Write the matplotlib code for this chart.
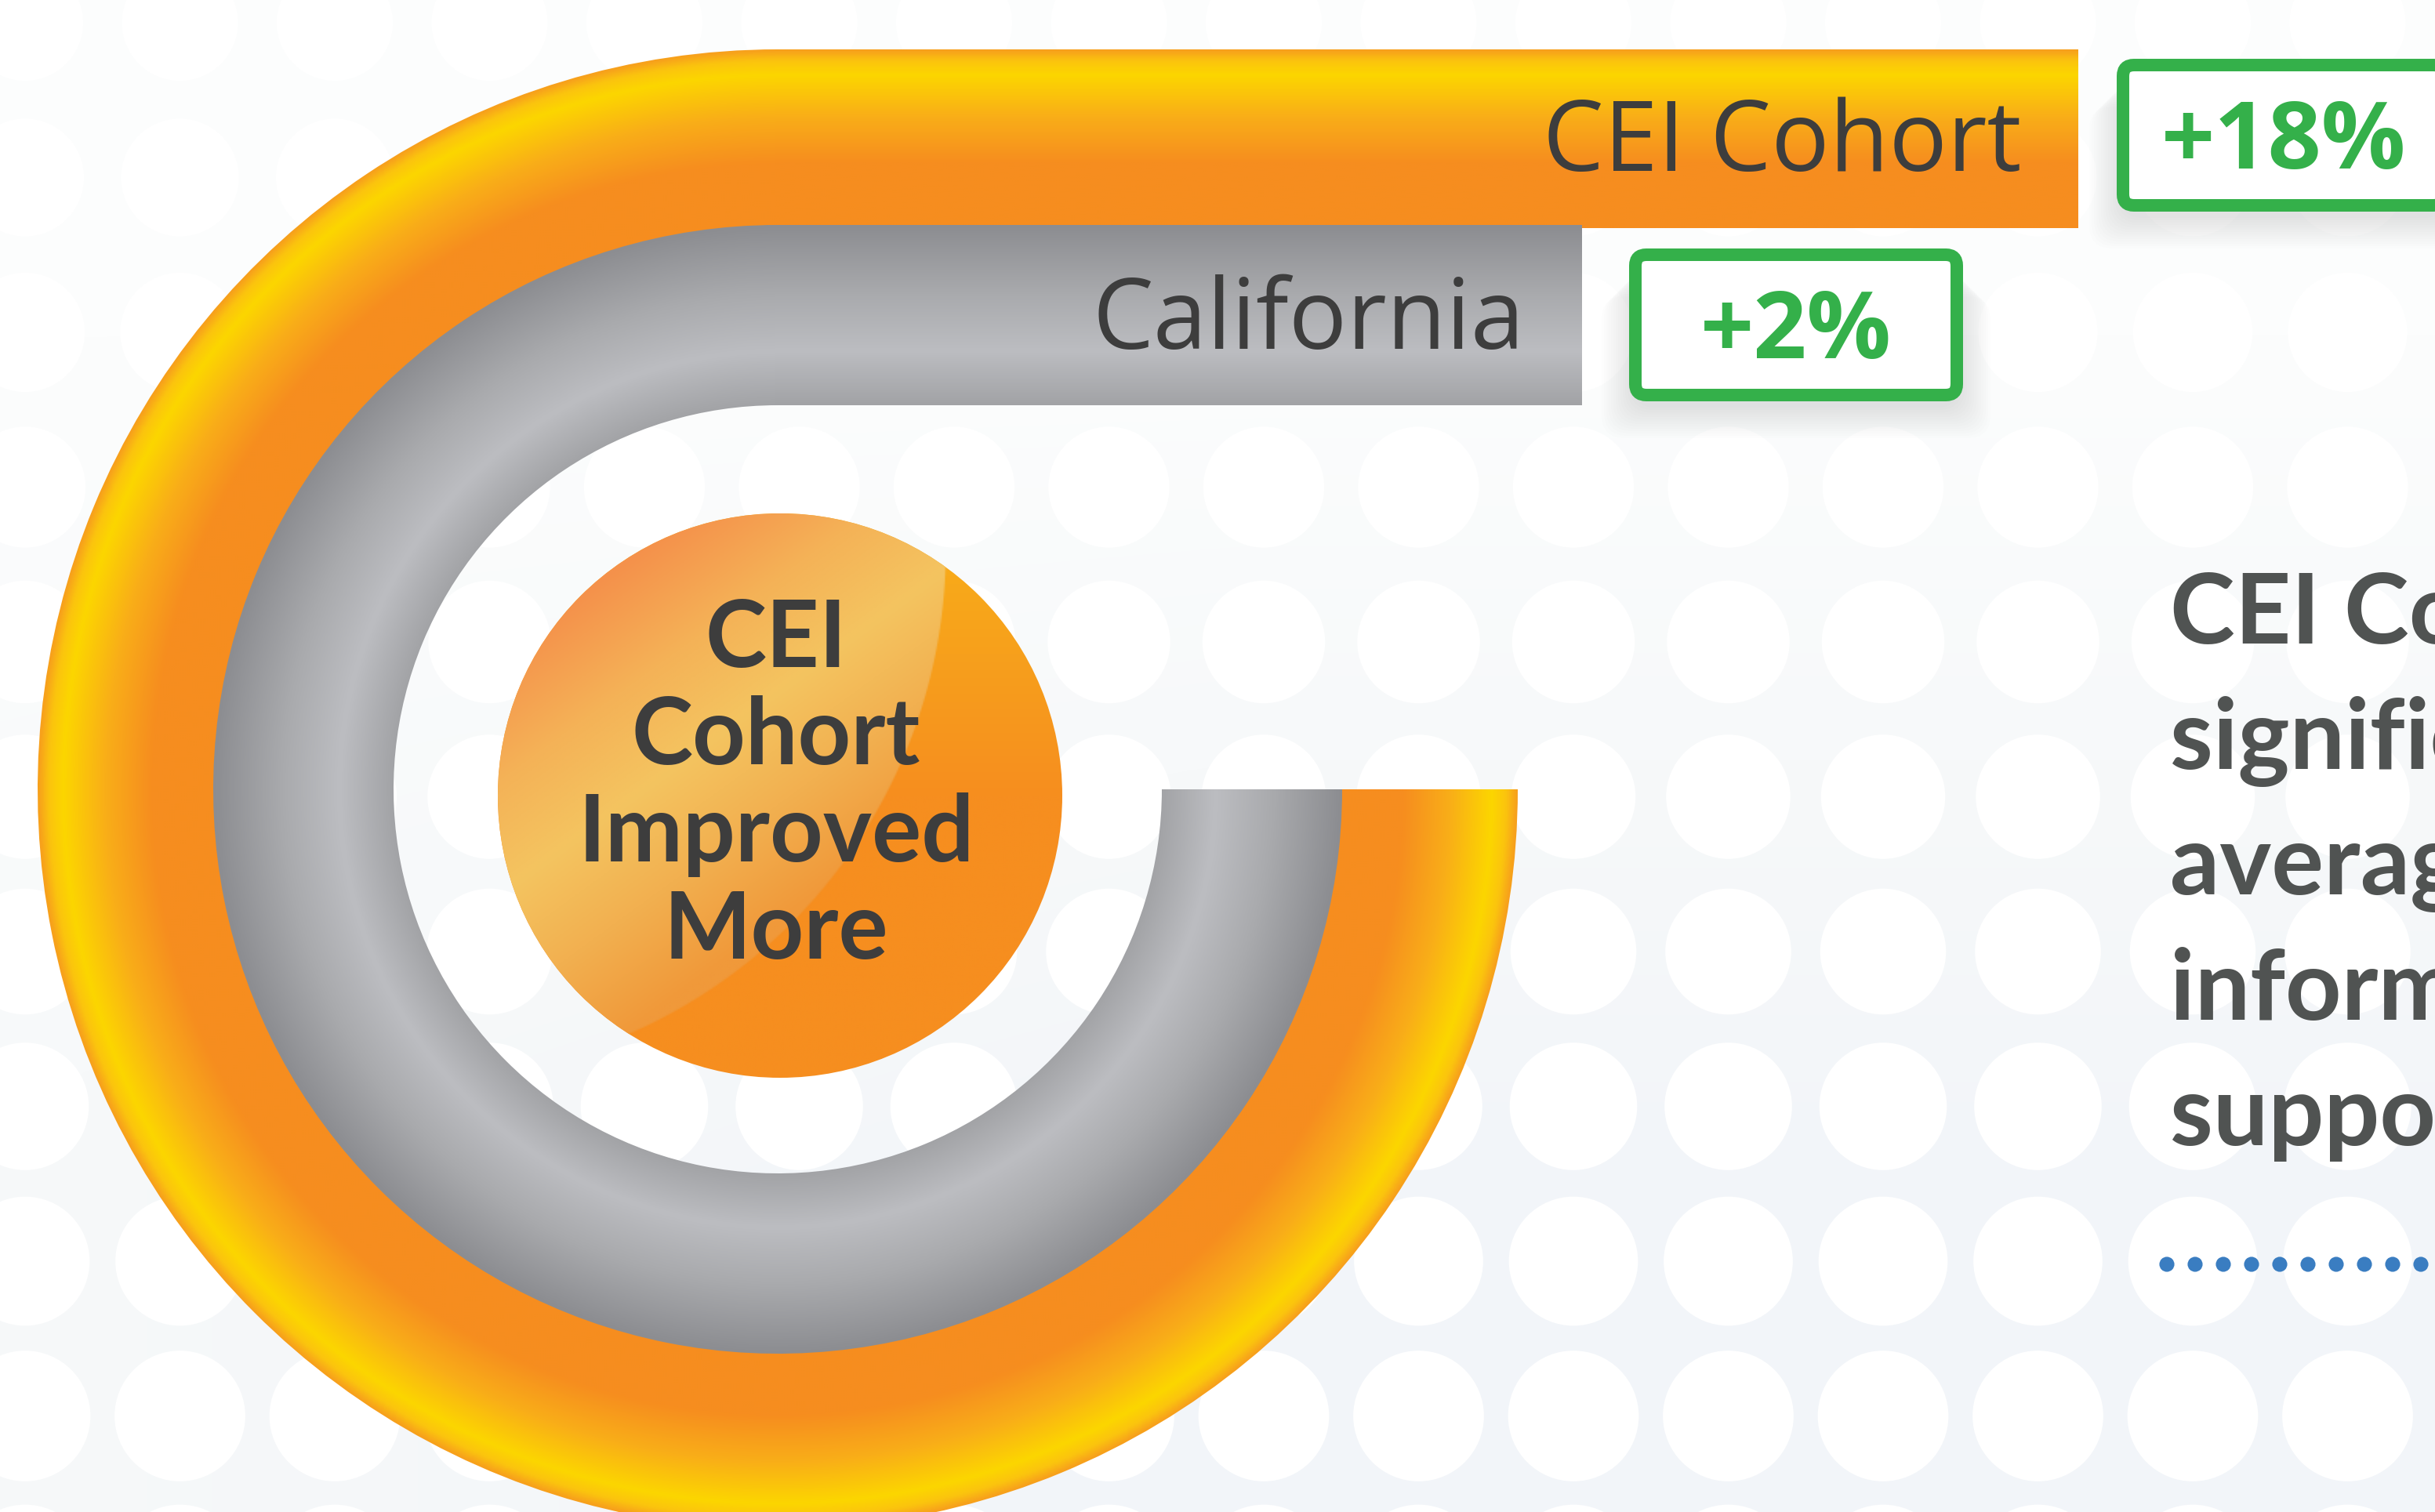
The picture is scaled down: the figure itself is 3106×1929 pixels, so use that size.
#!/usr/bin/env python3
"""Infographic: CEI Cohort vs California improvement, drawn as curved gradient tracks."""
import matplotlib

matplotlib.use("Agg")
import matplotlib.pyplot as plt
import numpy as np
from matplotlib.collections import PatchCollection
from matplotlib.colors import LinearSegmentedColormap
from matplotlib.patches import Circle, FancyBboxPatch, Rectangle, Wedge

# ---- data -------------------------------------------------------------
groups = ["CEI Cohort", "California"]
changes = [18, 2]  # percent improvement
circle_lines = ["CEI", "Cohort", "Improved", "More"]
side_lines = ["CEI Cohort", "significantly", "average", "information", "support"]

# ---- layout (reference pixel units, y grows downward) ------------------
W, H = 3106, 1929
CX, CY = 992, 1007
track_radii = [(720, 944), (490, 720)]  # (inner, outer) per group
bar_ends = [2651, 2018]
box_lefts = [2700, 2078]
box_tops = [75, 317]
BOX_W, BOX_H = 426, 195
GREEN = "#34B04A"
DARK = "#3D3D3D"

orange_cmap = LinearSegmentedColormap.from_list(
    "orange",
    [(0.0, "#F68D1F"), (0.36, "#F68E1F"), (0.62, "#F9AE18"),
     (0.86, "#FCD600"), (0.94, "#FBC40E"), (1.0, "#F7A01C")],
)
gray_cmap = LinearSegmentedColormap.from_list(
    "gray",
    [(0.0, "#A2A3A6"), (0.3, "#BCBDC1"), (0.62, "#A9AAAD"), (1.0, "#8C8D91")],
)
bg_cmap = LinearSegmentedColormap.from_list("bg", ["#FCFDFD", "#F7F9FA", "#F2F5F9"])
disc_cmap = LinearSegmentedColormap.from_list("disc", ["#F9B018", "#F7A01C", "#F68E1F"])
gloss_cmap = LinearSegmentedColormap.from_list(
    "gloss",
    [(0.0, "#F5914B"), (0.27, "#F4B257"), (0.51, "#F4C460"),
     (0.75, "#F2B050"), (1.0, "#F0993A")],
)


def grid(extent, step):
    x0, x1, y0, y1 = extent
    xs = np.arange(x0, x1 + step, step, dtype=float)
    ys = np.arange(y0, y1 + step, step, dtype=float)
    X, Y = np.meshgrid(xs, ys)
    return X, Y, (xs[0], xs[-1], ys[-1], ys[0])


def paint(ax, values, ext, clip=None, cmap=None, zorder=2):
    im = ax.imshow(values, cmap=cmap, vmin=0, vmax=1, extent=ext, origin="upper",
                   interpolation="bilinear", zorder=zorder)
    if clip is not None:
        im.set_clip_path(clip)
    return im


fig = plt.figure(figsize=(W / 100, H / 100), dpi=100)
ax = fig.add_axes([0, 0, 1, 1])
ax.set_axis_off()

# background with white dot pattern (pattern fades out towards the top and left)
X, Y, ext = grid((0, W, 0, H), 8)
shade = np.clip((Y - 420) / 1100, 0, 1) * (0.55 + 0.45 * np.clip(X / 1600, 0, 1))
paint(ax, shade, ext, cmap=bg_cmap, zorder=0)
dots = [Circle((x, y), 74 + 10 * y / H) for x in np.arange(32, W + 100, 197.5)
        for y in np.arange(29, H + 100, 197.5)]
ax.add_collection(PatchCollection(dots, facecolor="white", edgecolor="none", zorder=1))

# curved tracks + straight bars
for i, ((r_in, r_out), end, cmap) in enumerate(zip(track_radii, bar_ends,
                                                   [orange_cmap, gray_cmap])):
    overlap = 4 if i == 0 else 0
    z = 2 + i
    wedge = Wedge((CX, CY), r_out, 0, 270, width=r_out - r_in + overlap,
                  facecolor="none", edgecolor="none")
    ax.add_patch(wedge)
    X, Y, ext = grid((CX - r_out - 2, CX + r_out + 2, CY - r_out - 2, CY + r_out + 2), 2)
    t = np.clip((np.hypot(X - CX, Y - CY) - r_in) / (r_out - r_in), 0, 1)
    paint(ax, t, ext, clip=wedge, cmap=cmap, zorder=z)

    bar = Rectangle((CX - 3, CY - r_out), end - CX + 3, r_out - r_in + overlap,
                    facecolor="none", edgecolor="none")
    ax.add_patch(bar)
    X, Y, ext = grid((CX - 4, end + 2, CY - r_out - 2, CY - r_in + 6), 2)
    t = np.clip(((CY - Y) - r_in) / (r_out - r_in), 0, 1)
    paint(ax, t, ext, clip=bar, cmap=cmap, zorder=z)

    bar_mid = CY - (r_in + r_out) / 2
    ax.text(end - 73, bar_mid + 43, groups[i], ha="right", va="baseline",
            fontsize=89, family="Open Sans", fontweight=500, color=DARK, zorder=10)

    # value badge with soft shadow
    bx, by = box_lefts[i], box_tops[i]
    for k in range(14):
        ax.add_patch(FancyBboxPatch(
            (bx + 4 - k * 3, by + 22 + k * 3), BOX_W - 8 + k * 6, BOX_H - 14,
            boxstyle="round,pad=0,rounding_size=30", facecolor="#8E98A4",
            edgecolor="none", alpha=0.016, zorder=8))
    ax.add_patch(FancyBboxPatch(
        (bx + 8, by + 8), BOX_W - 16, BOX_H - 16,
        boxstyle="round,pad=0,rounding_size=14", facecolor="white",
        edgecolor=GREEN, linewidth=11.5, zorder=9))
    ax.text(bx + BOX_W / 2, by + BOX_H / 2 + 42, f"+{changes[i]}%", ha="center",
            va="baseline", fontsize=86, family="Open Sans", fontweight="bold",
            color=GREEN, zorder=10)

# center disc with gloss highlight
disc_c, disc_r = (995, 1015), 360
disc = Circle(disc_c, disc_r, facecolor="none", edgecolor="none")
ax.add_patch(disc)
X, Y, ext = grid((disc_c[0] - disc_r - 2, disc_c[0] + disc_r + 2,
                  disc_c[1] - disc_r - 2, disc_c[1] + disc_r + 2), 2)
paint(ax, np.clip((Y - (disc_c[1] - disc_r)) / disc_r, 0, 1), ext,
      clip=disc, cmap=disc_cmap, zorder=5)
p = (0.59 * X + 0.81 * Y - 1049) / (1540 - 1049)
gloss = gloss_cmap(np.clip(p, 0, 1))
gloss[..., 3] = np.clip((675 - np.hypot(X - 532, Y - 701)) / 2 + 0.5, 0, 1)
paint(ax, gloss, ext, clip=disc, zorder=6)

for k, line in enumerate(circle_lines):
    ax.text(990, 851 + 124 * k, line, ha="center", va="baseline", fontsize=85,
            family="Lato", fontweight="bold", color=DARK, zorder=10)

# right-hand summary text (runs off the edge, as in the source layout)
for k, line in enumerate(side_lines):
    ax.text(2768, 821 + 160 * k, line, ha="left", va="baseline", fontsize=90,
            family="Lato", fontweight="bold", color="#505352", zorder=10)
dot_x = np.arange(2764, W + 20, 36)
ax.scatter(dot_x, np.full(dot_x.shape, 1613), s=190, color="#3A7DC1",
           edgecolors="none", zorder=10)

ax.set_xlim(0, W)
ax.set_ylim(H, 0)
fig.savefig("out.png", dpi=100)
